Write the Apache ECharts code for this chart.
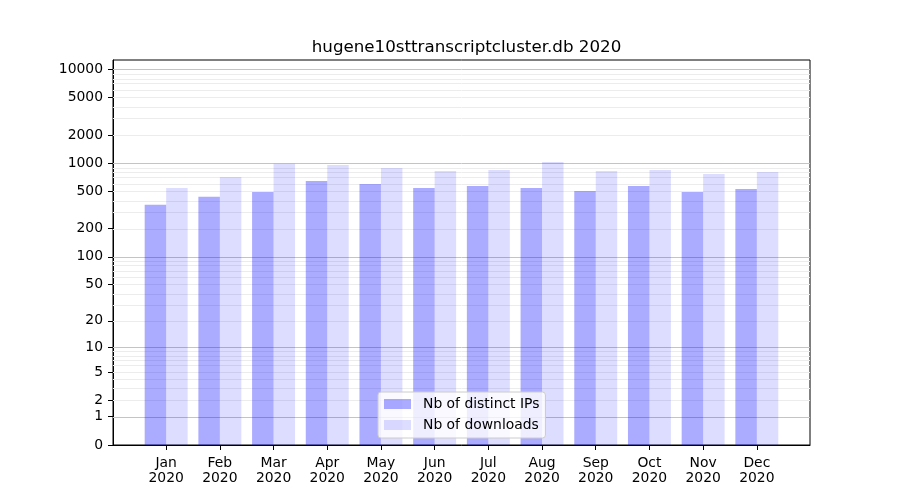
<!DOCTYPE html>
<html>
<head>
<meta charset="utf-8">
<script src="https://cdn.jsdelivr.net/npm/echarts@6/dist/echarts.min.js"></script>
<style>html,body{margin:0;padding:0;background:#fff}#c{width:900px;height:500px}</style>
</head>
<body>
<div id="c"></div>
<script>
const months = ['Jan','Feb','Mar','Apr','May','Jun','Jul','Aug','Sep','Oct','Nov','Dec'];
const year = '2020';
const distinctIPs = [360, 438, 495, 648, 602, 545, 573, 545, 507, 573, 495, 532];
const downloads = [546, 715, 990, 959, 891, 828, 848, 1032, 828, 848, 769, 808];
const yTickValues = [0, 1, 2, 5, 10, 20, 50, 100, 200, 500, 1000, 2000, 5000, 10000];
const majorGrid = [1, 10, 100, 1000, 10000];
const minorGrid = [];
[1, 10, 100, 1000].forEach(d => { for (let k = 2; k <= 9; k++) minorGrid.push(k * d); });

const tf = v => Math.log10(v + 1);
const font = 'DejaVu Sans';

const chart = echarts.init(document.getElementById('c'), null, {renderer: 'canvas'});
chart.setOption({
  animation: false,
  title: {
    text: 'hugene10sttranscriptcluster.db 2020',
    left: 461.5, textAlign: 'center', top: 34,
    textStyle: {fontFamily: font, fontSize: 16.7, fontWeight: 'normal', color: '#000'}
  },
  grid: {left: 113, right: 90, top: 60, bottom: 55, show: true, borderColor: '#000', borderWidth: 1, backgroundColor: 'transparent'},
  legend: {
    orient: 'vertical', left: 378, top: 392,
    padding: [5, 6, 6, 6], itemGap: 7, itemWidth: 27, itemHeight: 10, itemStyle: {borderWidth: 0},
    backgroundColor: 'rgba(255,255,255,0.8)', borderColor: '#cccccc', borderWidth: 1, borderRadius: 3,
    textStyle: {fontFamily: font, fontSize: 13.9, color: '#000', lineHeight: 14, padding: [0, 0, 0, 7]},
    icon: 'rect',
    data: ['Nb of distinct IPs', 'Nb of downloads']
  },
  xAxis: {
    type: 'value', min: -0.99, max: 11.99,
    axisLine: {show: true, onZero: false, lineStyle: {color: '#000', width: 1}},
    axisTick: {show: true, length: 5, lineStyle: {color: '#000', width: 1}, customValues: months.map((m, i) => i)},
    axisLabel: {
      customValues: months.map((m, i) => i), margin: 11,
      fontFamily: font, fontSize: 13.9, color: '#000', lineHeight: 15,
      formatter: v => months[Math.round(v)] + '\n' + year
    },
    splitLine: {show: false}
  },
  yAxis: {
    type: 'value', min: 0, max: 4.1,
    axisLine: {show: true, onZero: false, lineStyle: {color: '#000', width: 1}},
    axisTick: {show: true, length: 5, lineStyle: {color: '#000', width: 1}, customValues: yTickValues.map(tf)},
    axisLabel: {
      customValues: yTickValues.map(tf), margin: 10,
      fontFamily: font, fontSize: 13.9, color: '#000',
      formatter: v => String(Math.round(Math.pow(10, v) - 1))
    },
    splitLine: {show: false}
  },
  series: [
    {
      name: 'grid', type: 'line', data: [], silent: true, z: 1,
      markLine: {
        silent: true, symbol: 'none', z: 1, animation: false,
        label: {show: false},
        data: minorGrid.map(v => ({yAxis: tf(v), lineStyle: {color: '#ececec', width: 1, type: 'solid'}}))
          .concat(majorGrid.map(v => ({yAxis: tf(v), lineStyle: {color: '#c4c4c4', width: 1, type: 'solid'}})))
      }
    },
    {
      name: 'Nb of distinct IPs', type: 'bar', z: 3, barWidth: '40%', barGap: '0%',
      itemStyle: {color: 'rgba(0,0,255,0.33)'},
      data: distinctIPs.map((v, i) => [i, tf(v)])
    },
    {
      name: 'Nb of downloads', type: 'bar', z: 3, barWidth: '40%', barGap: '0%',
      itemStyle: {color: 'rgba(0,0,255,0.135)'},
      data: downloads.map((v, i) => [i, tf(v)])
    }
  ]
});
</script>
</body>
</html>
